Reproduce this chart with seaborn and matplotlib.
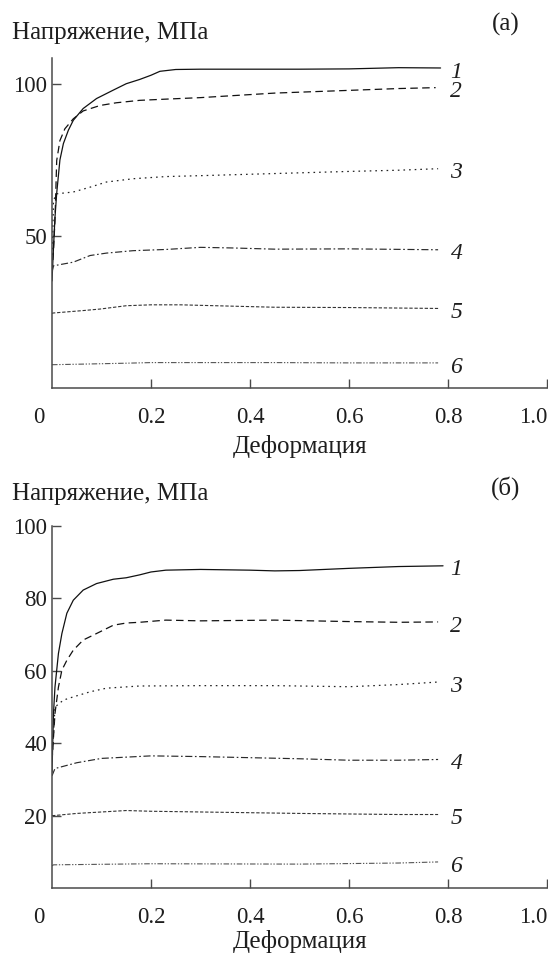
import numpy as np
import pandas as pd
import matplotlib
matplotlib.use("Agg")
import matplotlib.pyplot as plt
import seaborn as sns

# ---------------- data: panel (а) ----------------
a1_x = [0, 0.003, 0.006, 0.0095, 0.016, 0.023, 0.033, 0.043, 0.063, 0.09, 0.124, 0.15, 0.177, 0.2, 0.218, 0.25, 0.3, 0.4, 0.5, 0.6, 0.7, 0.785]
a1_y = [35, 46, 56, 64, 75, 80.4, 84.8, 88.1, 92, 95.3, 98.1, 100.2, 101.6, 103.0, 104.3, 104.9, 105.0, 105.0, 105.0, 105.1, 105.5, 105.4]
a2_x = [0, 0.003, 0.006, 0.0095, 0.016, 0.026, 0.043, 0.063, 0.097, 0.13, 0.177, 0.23, 0.3, 0.45, 0.6, 0.7, 0.775]
a2_y = [38, 45, 55, 74.8, 81.4, 85.3, 88.6, 91.2, 93, 93.9, 94.7, 95.1, 95.6, 97.1, 98.0, 98.6, 98.9]
a3_x = [0, 0.003, 0.0095, 0.043, 0.077, 0.11, 0.165, 0.23, 0.3, 0.45, 0.6, 0.7, 0.78]
a3_y = [38, 61.7, 63.8, 64.4, 66, 67.7, 68.8, 69.5, 69.8, 70.5, 71.2, 71.6, 72.1]
a4_x = [0, 0.003, 0.043, 0.077, 0.11, 0.164, 0.23, 0.3, 0.364, 0.45, 0.6, 0.78]
a4_y = [38, 40, 41.2, 43.4, 44.2, 45, 45.4, 46.1, 45.9, 45.5, 45.6, 45.3]
a5_x = [0, 0.003, 0.063, 0.097, 0.15, 0.2, 0.26, 0.33, 0.45, 0.6, 0.78]
a5_y = [24.3, 24.4, 25.2, 25.7, 26.8, 27.1, 27.1, 26.8, 26.3, 26.2, 25.9]
a6_x = [0, 0.063, 0.15, 0.2, 0.45, 0.6, 0.78]
a6_y = [7.3, 7.5, 7.8, 8.0, 8.0, 7.9, 7.9]

# ---------------- data: panel (б) ----------------
b1_x = [0, 0.003, 0.006, 0.013, 0.02, 0.03, 0.043, 0.063, 0.09, 0.124, 0.15, 0.177, 0.2, 0.23, 0.3, 0.4, 0.45, 0.5, 0.6, 0.7, 0.79]
b1_y = [32, 48.2, 55.5, 64.8, 70.3, 75.9, 79.5, 82.3, 84.1, 85.3, 85.7, 86.5, 87.3, 87.8, 88.0, 87.8, 87.6, 87.7, 88.3, 88.8, 89.0]
b2_x = [0, 0.006, 0.013, 0.02, 0.03, 0.043, 0.063, 0.09, 0.124, 0.15, 0.177, 0.23, 0.3, 0.45, 0.6, 0.7, 0.78]
b2_y = [35, 48.2, 55.5, 60.2, 62.9, 65.7, 68.5, 70.3, 72.6, 73.2, 73.4, 74.0, 73.8, 74.0, 73.6, 73.4, 73.5]
b3_x = [0, 0.006, 0.023, 0.043, 0.077, 0.11, 0.177, 0.3, 0.45, 0.6, 0.7, 0.78]
b3_y = [35, 50, 51.9, 52.8, 54.2, 55.2, 55.8, 55.9, 55.9, 55.6, 56.2, 56.9]
b4_x = [0, 0.006, 0.05, 0.1, 0.2, 0.3, 0.4, 0.5, 0.6, 0.7, 0.78]
b4_y = [31, 33, 34.6, 35.8, 36.5, 36.3, 36.0, 35.7, 35.3, 35.3, 35.5]
b5_x = [0, 0.003, 0.05, 0.1, 0.15, 0.2, 0.3, 0.5, 0.7, 0.78]
b5_y = [20, 20, 20.6, 21.0, 21.4, 21.2, 21.0, 20.6, 20.3, 20.3]
b6_x = [0, 0.003, 0.2, 0.5, 0.7, 0.78]
b6_y = [6.1, 6.4, 6.7, 6.6, 6.9, 7.2]

curve_names = ["1", "2", "3", "4", "5", "6"]
x_ticks = [0.2, 0.4, 0.6, 0.8, 1.0]
x_ticklabels = ["0.2", "0.4", "0.6", "0.8", "1.0"]
a_yticks = [50, 100]
b_yticks = [20, 40, 60, 80, 100]
ylabel = "Напряжение, МПа"
xlabel = "Деформация"

sns.set_style("ticks")
plt.rcParams["font.family"] = ["Liberation Serif", "DejaVu Serif"]

INK = "#1e1e1e"
AX = "#4a4a4a"
styles = [
    dict(linestyle="-", lw=0.9, color="#111111"),
    dict(linestyle=(0, (6.0, 3.5)), lw=0.9, color="#111111"),
    dict(linestyle=(0, (1.3, 3.2)), lw=0.9, color="#222222"),
    dict(linestyle=(0, (6.0, 2.2, 1.4, 2.2)), lw=0.85, color="#2a2a2a"),
    dict(linestyle=(0, (3.0, 1.6)), lw=0.8, color="#333333"),
    dict(linestyle=(0, (5.0, 1.5, 1.2, 1.5, 1.2, 1.5)), lw=0.8, color="#555555"),
]

W, H = 548, 958
fig = plt.figure(figsize=(W / 100, H / 100), dpi=100)

def px_ax(left, top, right, bottom):
    return fig.add_axes([left / W, 1 - bottom / H, (right - left) / W, (bottom - top) / H])

ax_a = px_ax(52, 58, 547, 388)
ax_b = px_ax(52, 526, 547, 888)

FS_NUM = 16.5
FS_TXT = 18
FS_CURVE = 17

def draw(ax, series, yticks, ylim, tag, tag_y_px, ylab_y_px, xlab_y_px):
    for i, (xs, ys) in enumerate(series):
        df = pd.DataFrame({"strain": xs, "stress": ys})
        st = styles[i]
        sns.lineplot(data=df, x="strain", y="stress", ax=ax, estimator=None, sort=False,
                     color=st["color"], linewidth=st["lw"], linestyle=st["linestyle"])
        ax.annotate(curve_names[i], xy=(0.805, ys[-1]), xycoords="data",
                    xytext=(0, -3), textcoords="offset points", ha="left", va="center",
                    fontsize=FS_CURVE, style="italic", color=INK)
    ax.set_xlim(0, 1.0)
    ax.set_ylim(*ylim)
    ax.set_xticks(x_ticks)
    ax.set_xticklabels(x_ticklabels)
    ax.set_yticks(yticks)
    ax.set_yticklabels([str(v) for v in yticks])
    ax.tick_params(axis="both", direction="in", length=6.5, width=1.0, color=AX,
                   labelsize=FS_NUM, labelcolor=INK)
    ax.tick_params(axis="x", pad=13.5)
    ax.tick_params(axis="y", pad=3.5)
    ax.get_xticklabels()[-1].set_horizontalalignment("right")
    for s in ["top", "right"]:
        ax.spines[s].set_visible(False)
    for s in ["left", "bottom"]:
        ax.spines[s].set_color(AX)
        ax.spines[s].set_linewidth(1.1)
    ax.set_xlabel("")
    ax.set_ylabel("")
    ax.annotate("0", xy=(0, 0), xycoords="axes fraction", xytext=(-9.5, -13.5),
                textcoords="offset points", ha="center", va="top", fontsize=FS_NUM, color=INK)
    fig.text(300 / W, 1 - xlab_y_px / H, xlabel, ha="center", va="baseline", fontsize=FS_TXT, color=INK)
    fig.text(12 / W, 1 - ylab_y_px / H, ylabel, ha="left", va="baseline", fontsize=FS_TXT, color=INK)
    fig.text(506 / W, 1 - tag_y_px / H, tag, ha="center", va="baseline", fontsize=FS_TXT, color=INK)

draw(ax_a, [(a1_x, a1_y), (a2_x, a2_y), (a3_x, a3_y), (a4_x, a4_y), (a5_x, a5_y), (a6_x, a6_y)],
     a_yticks, (-0.4, 108.7), "(а)", 31, 39, 453)
draw(ax_b, [(b1_x, b1_y), (b2_x, b2_y), (b3_x, b3_y), (b4_x, b4_y), (b5_x, b5_y), (b6_x, b6_y)],
     b_yticks, (0, 100), "(б)", 495, 500, 948)

fig.savefig("out.png", dpi=100)
